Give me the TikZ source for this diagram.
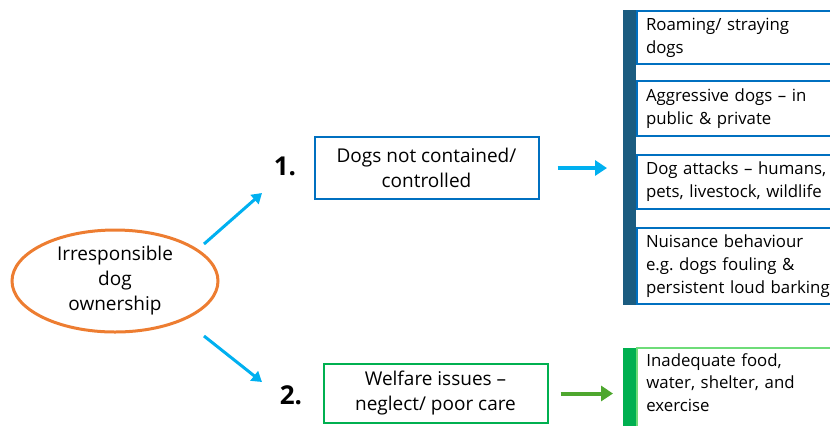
\documentclass[tikz,border=0pt]{standalone}
\usepackage{fontspec}
\setmainfont{Open Sans}
\usetikzlibrary{positioning, arrows.meta, shapes.geometric}
\definecolor{OwnOrange}{RGB}{237,125,49}
\definecolor{ArrowBlue}{RGB}{0,176,240}
\definecolor{BoxBlue}{RGB}{0,112,192}
\definecolor{BarBlue}{RGB}{27,92,128}
\definecolor{BoxGreen}{RGB}{0,176,80}
\definecolor{ArrowGreen}{RGB}{78,167,46}
\definecolor{LightGreen}{RGB}{110,220,120}

\begin{document}
\begin{tikzpicture}[x=0.5pt,y=-0.5pt,
    every node/.style={font=\fontsize{9.5}{12.5}\selectfont, inner sep=0pt},
    mainbox/.style={draw, line width=1pt, align=center, minimum width=112pt},
    itembox/.style={draw=BoxBlue, line width=1pt, anchor=north west, text width=110pt, inner xsep=4.5pt, align=left, font=\fontsize{8.4}{11.5}\selectfont},
    numlabel/.style={font=\fontsize{13}{15}\selectfont\bfseries},
    thinarrow/.style={ArrowBlue, line width=1.5pt, -{Triangle[length=5pt,width=6pt]}},
    thickarrow/.style={line width=2pt, -{Triangle[length=6pt,width=7.5pt]}}]
  \useasboundingbox (0,0) rectangle (830,425);
  \clip (0,0) rectangle (830,425);

  % cause
  \node[ellipse, draw=OwnOrange, line width=1.5pt, minimum width=103pt, minimum height=51pt, align=center] (own) at (115,281) {Irresponsible\\dog\\ownership};
  \coordinate (upstart) at (204,244);
  \coordinate (upend) at (262,193);
  \coordinate (downstart) at (204,336);
  \coordinate (downend) at (262,382);
  \draw[thinarrow] (upstart) -- (upend);
  \draw[thinarrow] (downstart) -- (downend);

  % 1. dogs not contained
  \node[numlabel] (one) at (285,166) {1.};
  \node[mainbox, draw=BoxBlue, minimum height=31pt] (contain) at (426.5,168) {Dogs not contained/\\controlled};
  \node[fill=BarBlue, minimum width=6.5pt, minimum height=147.5pt, anchor=north west] (barone) at (623,10) {};
  \node[itembox, minimum height=26.5pt] (roam) at (636,10) {Roaming/ straying\\dogs};
  \node[itembox, minimum height=27.5pt] (aggr) at (636,80) {Aggressive dogs – in\\public \& private};
  \node[itembox, minimum height=27pt] (attack) at (636,154) {Dog attacks – humans,\\pets, livestock, wildlife};
  \node[itembox, minimum height=38pt] (nuis) at (636,227) {Nuisance behaviour\\e.g.\ dogs fouling \&\\persistent loud barking};
  \draw[thickarrow, ArrowBlue, shorten <=9pt, shorten >=8pt] (contain.east) -- (contain.east -| barone.west);

  % 2. welfare issues
  \node[numlabel] (two) at (291,395) {2.};
  \node[mainbox, draw=BoxGreen, minimum height=29.5pt] (welfare) at (435.5,393.5) {Welfare issues –\\neglect/ poor care};
  \node[fill=BoxGreen, minimum width=7pt, minimum height=45pt, anchor=north west] (bartwo) at (623,348) {};
  \node[anchor=north west, text width=110pt, inner xsep=4.5pt, inner ysep=2.5pt, align=left, font=\fontsize{8.4}{11.2}\selectfont] (food) at (637,348) {Inadequate food,\\water, shelter, and\\exercise};
  \draw[LightGreen, line width=1pt] (food.north west) rectangle ([yshift=-20pt]food.south east);
  \draw[thickarrow, ArrowGreen, shorten <=6pt, shorten >=5pt] (welfare.east) -- (welfare.east -| bartwo.west);
\end{tikzpicture}
\end{document}
